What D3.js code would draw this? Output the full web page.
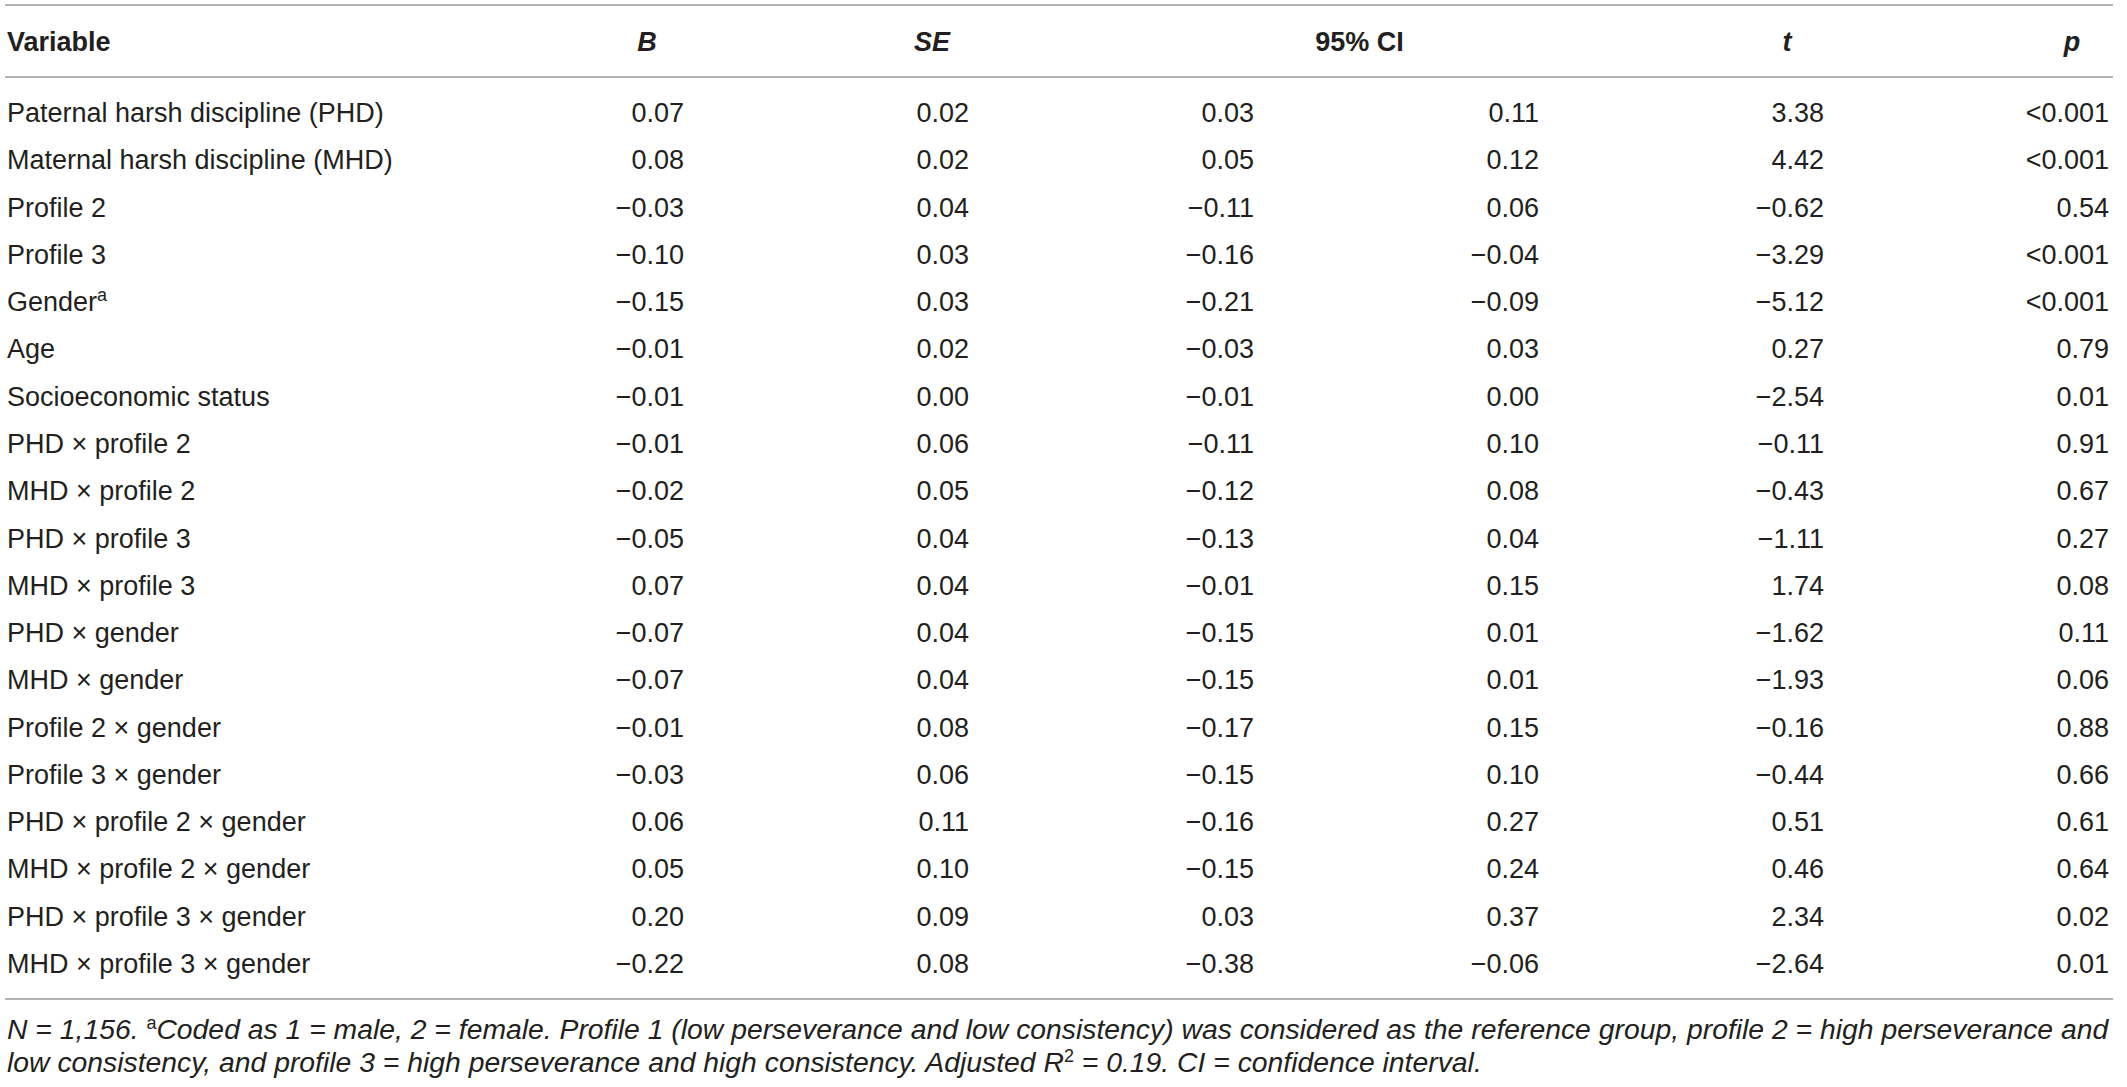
<!DOCTYPE html>
<html>
<head>
<meta charset="utf-8">
<script src="https://cdn.jsdelivr.net/npm/d3@7"></script>
<style>
  body { margin: 0; background: #fff; }
  text { font-family: "Liberation Sans", Arial, Helvetica, sans-serif; fill: #231f20; }
</style>
</head>
<body>
<svg id="table" width="2127" height="1087"></svg>
<script>
// table values
var variables = [
  "Paternal harsh discipline (PHD)", "Maternal harsh discipline (MHD)", "Profile 2", "Profile 3",
  "Gender", "Age", "Socioeconomic status", "PHD \u00d7 profile 2", "MHD \u00d7 profile 2",
  "PHD \u00d7 profile 3", "MHD \u00d7 profile 3", "PHD \u00d7 gender", "MHD \u00d7 gender",
  "Profile 2 \u00d7 gender", "Profile 3 \u00d7 gender", "PHD \u00d7 profile 2 \u00d7 gender",
  "MHD \u00d7 profile 2 \u00d7 gender", "PHD \u00d7 profile 3 \u00d7 gender", "MHD \u00d7 profile 3 \u00d7 gender"
];
var supers = {"Gender": "a"};
var B      = [0.07, 0.08, -0.03, -0.10, -0.15, -0.01, -0.01, -0.01, -0.02, -0.05, 0.07, -0.07, -0.07, -0.01, -0.03, 0.06, 0.05, 0.20, -0.22];
var SE     = [0.02, 0.02, 0.04, 0.03, 0.03, 0.02, 0.00, 0.06, 0.05, 0.04, 0.04, 0.04, 0.04, 0.08, 0.06, 0.11, 0.10, 0.09, 0.08];
var ciLow  = [0.03, 0.05, -0.11, -0.16, -0.21, -0.03, -0.01, -0.11, -0.12, -0.13, -0.01, -0.15, -0.15, -0.17, -0.15, -0.16, -0.15, 0.03, -0.38];
var ciHigh = [0.11, 0.12, 0.06, -0.04, -0.09, 0.03, 0.00, 0.10, 0.08, 0.04, 0.15, 0.01, 0.01, 0.15, 0.10, 0.27, 0.24, 0.37, -0.06];
var tVals  = [3.38, 4.42, -0.62, -3.29, -5.12, 0.27, -2.54, -0.11, -0.43, -1.11, 1.74, -1.62, -1.93, -0.16, -0.44, 0.51, 0.46, 2.34, -2.64];
var pVals  = ["<0.001", "<0.001", "0.54", "<0.001", "<0.001", "0.79", "0.01", "0.91", "0.67", "0.27", "0.08", "0.11", "0.06", "0.88", "0.66", "0.61", "0.64", "0.02", "0.01"];

var columns = ["B", "SE", "ciLow", "ciHigh", "t", "p"];
var headers = [
  {label: "B", cols: ["B"], italic: true},
  {label: "SE", cols: ["SE"], italic: true},
  {label: "95% CI", cols: ["ciLow", "ciHigh"], italic: false},
  {label: "t", cols: ["t"], italic: true},
  {label: "p", cols: ["p"], italic: true}
];
var footLines = [
  [{t: "N", i: true}, {t: " = 1,156. ", i: true}, {t: "a", sup: true},
   {t: "Coded as 1 = male, 2 = female. Profile 1 (low perseverance and low consistency) was considered as the reference group, profile 2 = high perseverance and", i: true}],
  [{t: "low consistency, and profile 3 = high perseverance and high consistency. Adjusted R", i: true}, {t: "2", sup: true},
   {t: " = 0.19. CI = confidence interval.", i: true}]
];

var W = 2127, H = 1087;
var left = 7, right = 2113;
var fontSize = 27;
var fmt = d3.format(".2f");

var svg = d3.select("#table");
svg.append("rect").attr("width", W).attr("height", H).attr("fill", "#fff");

var rowY = d3.scalePoint().domain(d3.range(variables.length)).range([122, 973]);
var colX = d3.scalePoint().domain(columns).range([684, 2109]);

var cells = variables.map(function (v, i) {
  return {
    name: v,
    vals: {B: fmt(B[i]), SE: fmt(SE[i]), ciLow: fmt(ciLow[i]), ciHigh: fmt(ciHigh[i]), t: fmt(tVals[i]), p: pVals[i]}
  };
});

// rules
[5, 77, 999].forEach(function (y) {
  svg.append("line")
    .attr("x1", left - 2).attr("x2", right)
    .attr("y1", y).attr("y2", y)
    .attr("stroke", "#b3b3b3").attr("stroke-width", 2);
});

// header
svg.append("text")
  .attr("x", left).attr("y", 51)
  .style("font-size", fontSize + "px").style("font-weight", "bold")
  .text("Variable");

svg.selectAll("text.head")
  .data(headers)
  .enter().append("text")
  .attr("class", "head")
  .attr("x", d => d3.mean(d.cols, c => colX(c)) - 37)
  .attr("y", 51)
  .attr("text-anchor", "middle")
  .style("font-size", fontSize + "px")
  .style("font-weight", "bold")
  .style("font-style", d => d.italic ? "italic" : "normal")
  .text(d => d.label);

// body rows
var rows = svg.selectAll("g.row")
  .data(cells)
  .enter().append("g")
  .attr("class", "row")
  .attr("transform", (d, i) => "translate(0," + rowY(i) + ")");

var label = rows.append("text")
  .attr("x", left)
  .style("font-size", fontSize + "px")
  .text(d => d.name);
label.filter(d => supers[d.name])
  .append("tspan")
  .attr("dy", -10)
  .style("font-size", "18px")
  .text(d => supers[d.name]);

rows.selectAll("text.num")
  .data(d => columns.map(c => ({col: c, v: d.vals[c]})))
  .enter().append("text")
  .attr("class", "num")
  .attr("x", d => colX(d.col))
  .attr("text-anchor", "end")
  .style("font-size", fontSize + "px")
  .text(d => d.v);

// footnote
var footY = [1039, 1072];
var foot = svg.selectAll("text.foot")
  .data(footLines)
  .enter().append("text")
  .attr("class", "foot")
  .attr("x", left)
  .attr("y", (d, i) => footY[i])
  .style("font-size", fontSize + "px");

foot.each(function (parts) {
  var el = d3.select(this);
  var raised = false;
  parts.forEach(function (p) {
    var ts = el.append("tspan").text(p.t);
    if (p.sup) {
      ts.attr("dy", -10).style("font-size", "18px").style("font-style", "normal");
      raised = true;
    } else {
      if (raised) { ts.attr("dy", 10); raised = false; }
      ts.style("font-style", p.i ? "italic" : "normal");
    }
  });
});

// fit the first footnote line to the table width
var firstLen = foot.nodes()[0].getComputedTextLength();
var target = right - left - 4;
if (firstLen > 0) {
  var fs = fontSize * target / firstLen;
  foot.style("font-size", fs + "px");
}
</script>
</body>
</html>
